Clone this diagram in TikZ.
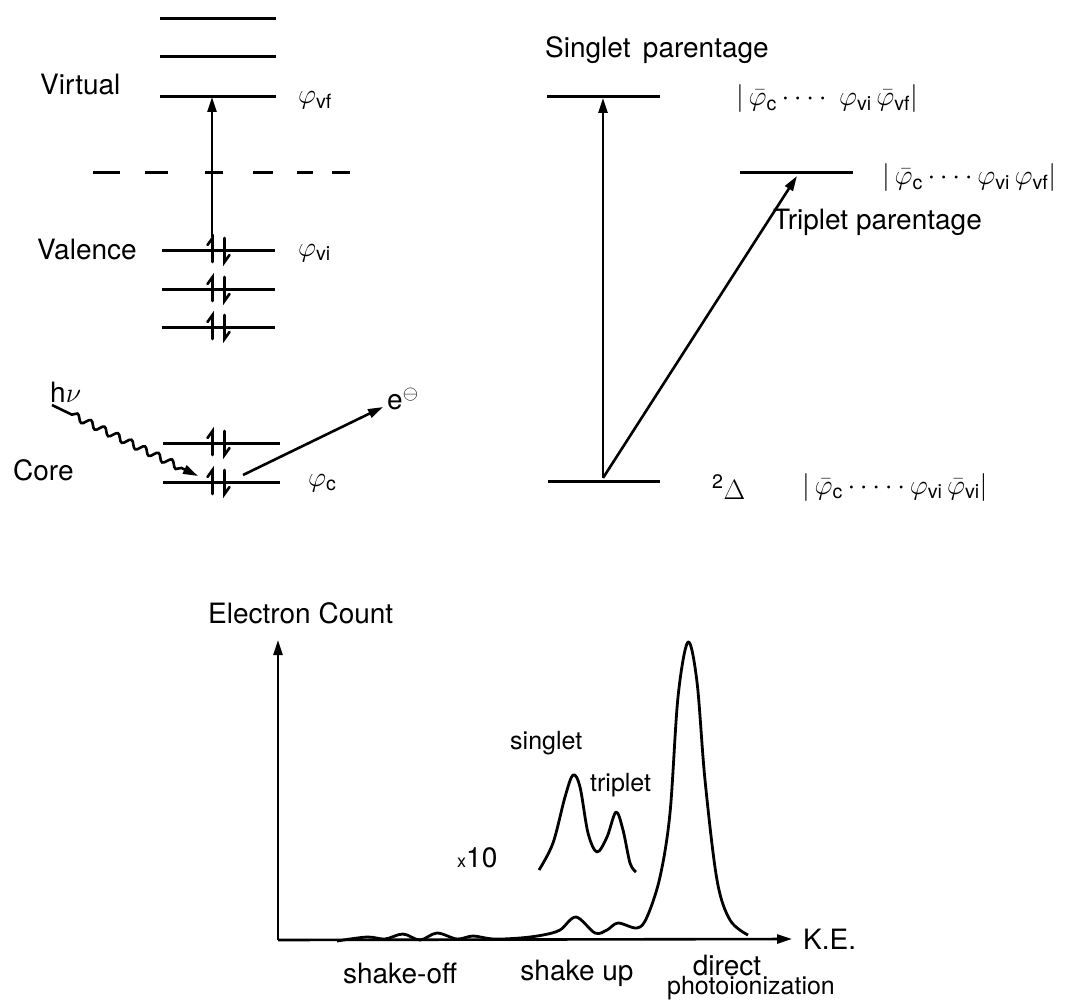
\RequirePackage{fix-cm}
\documentclass[tikz,border=0pt]{standalone}
\usepackage{fontspec}
\setsansfont{TeX Gyre Heros}
\renewcommand{\familydefault}{\sfdefault}
\usetikzlibrary{arrows.meta,positioning,decorations.pathmorphing}
\newcommand{\orb}[1]{\varphi_{\mathsf{#1}}}
\newcommand{\orbbar}[1]{\bar{\varphi}_{\mathsf{#1}}}
\newcommand{\dts}[1]{\mathinner{\foreach \i in {1,...,#1}{\cdotp}}}

\begin{document}
\begin{tikzpicture}[x=1pt, y=-1pt,
  txt/.style={font=\fontsize{28}{30}\selectfont, inner sep=0pt},
  small/.style={font=\fontsize{25}{27}\selectfont, inner sep=0pt},
  lvl/.style={line width=3pt},
  arr/.style={-{Triangle[length=15pt, width=9pt]}, line width=2.6pt},
  spin/.style={line width=2.6pt, line cap=round},
  curve/.style={line width=2.8pt, line join=round},
  spins/.pic={\draw[spin] (-6,12) -- (-6,-12) -- (-11,-5);
              \draw[spin] (6,-12) -- (6,12) -- (11,5);}
]
  \useasboundingbox (0,0) rectangle (1067,1003);

  % Orbital levels, left
  \draw[lvl] (160,19) -- (276,19);
  \draw[lvl] (160,57) -- (276,57);
  \draw[lvl] (160,97) -- (276,97);
  \foreach \a/\b in {93/120,145/168,205/223,253/273,297/313,332/350}
    \draw[lvl] (\a,173) -- (\b,173);
  \foreach \y in {250,289,327}{
    \draw[lvl] (162,\y) -- (275,\y);
    \pic at (218.5,\y) {spins};
  }
  \foreach \y in {443,482}{
    \draw[lvl] (163,\y) -- (280,\y);
    \pic at (218.5,\y) {spins};
  }

  \node[txt, anchor=west] (virtual) at (40,85)  {Virtual};
  \node[txt, anchor=west] (valence) at (37,250) {Valence};
  \node[txt, anchor=west] (core)    at (13,470) {Core};
  \node[txt, anchor=west] (vf) at (298,100) {$\orb{vf}$};
  \node[txt, anchor=west] (vi) at (298,253) {$\orb{vi}$};
  \node[txt, anchor=west] (c)  at (308,483) {$\orb{c}$};
  \node[txt, anchor=south west] (hnu) at (50,403) {$\mathsf{h}\nu$};
  \node[txt, anchor=west] (elec) at (387,399) {$\mathsf{e}^{\ominus}$};

  \coordinate (vistart) at (212,237);
  \coordinate (vftop)   at (212,97);
  \coordinate (wstart)  at (52,405);
  \coordinate (wend)    at (198,476);
  \coordinate (cout)    at (243,475);
  \coordinate (eout)    at (383,407);

  \draw[arr] (vistart) -- (vftop);
  \draw[arr, decorate, decoration={snake, amplitude=3.5pt, segment length=15pt,
        pre length=22pt, post length=16pt}] (wstart) -- (wend);
  \draw[arr] (cout) -- (eout);

  % States, right
  \draw[lvl] (547,97) -- (660,97);
  \draw[lvl] (740,173) -- (853,173);
  \draw[lvl] (548,481) -- (660,481);
  \coordinate (gs) at (603,478);
  \coordinate (singlet) at (603,98);
  \coordinate (triplet) at (797,176);
  \draw[arr] (gs) -- (singlet);
  \draw[arr] (gs) -- (triplet);

  \node[txt, anchor=west] (sing) at (545,50) {Singlet\, parentage};
  \node[txt, anchor=east] (trip) at (982,222) {Triplet parentage};
  \node[txt, anchor=west] (ket1) at (736,99)
    {$\Big|\,\orbbar{c}\dts{4}\;\orb{vi}\,\orbbar{vf}\Big|$};
  \node[txt, anchor=west] (ket2) at (882,178)
    {$\Big|\,\orbbar{c}\dts{4}\orb{vi}\,\orb{vf}\Big|$};
  \node[txt, anchor=west] (delta) at (712,487) {$^{\mathsf{2}}\Delta$};
  \node[txt, anchor=west] (ket3) at (802,487)
    {$\Big|\,\orbbar{c}\dts{5}\orb{vi}\,\orbbar{vi}\Big|$};

  % Spectrum
  \coordinate (origin) at (278,940);
  \coordinate (ytip) at (278,640);
  \coordinate (xtip) at (792,939);
  \draw[arr] (origin) -- (ytip);
  \draw[arr] (origin) -- (xtip);
  \node[txt, anchor=west] (count) at (208,613) {Electron Count};
  \node[txt, anchor=west] (ke) at (803,939) {K.E.};

  \draw[curve] plot[smooth, tension=0.55] coordinates {
    (337,941) (367,937) (385,939) (403,934) (420,940) (437,933) (457,939)
    (473,936) (493,939) (520,938) (543,935) (560,930) (576,917) (595,933)
    (607,930) (618,923) (637,928) (647,917) (660,877) (670,813) (678,697)
    (688,642) (697,682) (705,780) (717,880) (730,920) (748,935)};
  \draw[curve] plot[smooth, tension=0.55] coordinates {
    (539,870) (553,843) (565,797) (573,775) (580,787) (588,833) (597,852)
    (607,837) (616,812) (623,830) (630,863) (636,872)};

  \node[small, anchor=west] (sgl) at (510,743) {singlet};
  \node[small, anchor=west] (trp) at (590,785) {triplet};
  \node[txt, anchor=west] (x10) at (457,858) {{\fontsize{18}{20}\selectfont x}10};
  \node[txt] (shoff) at (400,973) {shake-off};
  \node[txt] (shup)  at (577,973) {shake up};
  \node[txt] (direct) at (727,965) {direct};
  \node[small] (photo) at (751,988) {photoionization};
\end{tikzpicture}
\end{document}
